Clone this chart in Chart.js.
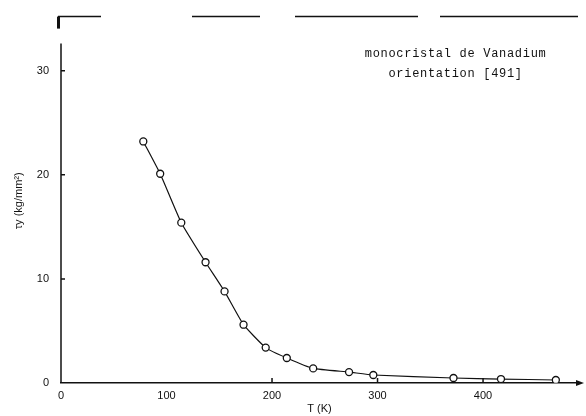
<!DOCTYPE html>
<html>
<head>
<meta charset="utf-8">
<script src="https://cdn.jsdelivr.net/npm/chart.js@4"></script>
<style>
  html, body { margin: 0; padding: 0; background: #fff; }
  #wrap { width: 586px; height: 416px; }
</style>
</head>
<body>
<div id="wrap"><canvas id="stressChart" width="586" height="416"></canvas></div>
<script>
// values
const temperatures = [78, 94, 114, 137, 155, 173, 194, 214, 239, 273, 296, 372, 417, 469];
const stress = [23.2, 20.1, 15.4, 11.6, 8.8, 5.6, 3.4, 2.4, 1.4, 1.05, 0.77, 0.48, 0.38, 0.29];
const xTicks = [0, 100, 200, 300, 400];
const yTicks = [0, 10, 20, 30];
const noteLines = ["monocristal de Vanadium", "orientation [491]"];

const INK = "#111";
const tickFont = { family: "Liberation Sans", size: 11 };

// y axis line, inward tick marks, top frame line, arrow head and the note
const decorations = {
  id: "decorations",
  afterDraw(chart) {
    const { ctx, chartArea, scales } = chart;
    const x = scales.x, y = scales.y;
    ctx.save();
    ctx.strokeStyle = INK;
    ctx.fillStyle = INK;
    ctx.lineWidth = 1.5;

    // the vertical axis stops short of the top frame
    ctx.beginPath();
    ctx.moveTo(chartArea.left, y.getPixelForValue(32.6));
    ctx.lineTo(chartArea.left, chartArea.bottom);
    ctx.stroke();

    ctx.beginPath();
    yTicks.slice(1).forEach((v) => {
      const py = y.getPixelForValue(v);
      ctx.moveTo(chartArea.left, py);
      ctx.lineTo(chartArea.left + 4, py);
    });
    xTicks.slice(2).forEach((v) => {
      const px = x.getPixelForValue(v);
      ctx.moveTo(px, chartArea.bottom);
      ctx.lineTo(px, chartArea.bottom - 5);
    });
    ctx.stroke();

    // broken frame line on top
    ctx.beginPath();
    ctx.moveTo(chartArea.left - 3, chartArea.top - 2);
    ctx.lineTo(chartArea.left + 40, chartArea.top - 2);
    ctx.moveTo(192, chartArea.top - 2);
    ctx.lineTo(260, chartArea.top - 2);
    ctx.moveTo(295, chartArea.top - 2);
    ctx.lineTo(418, chartArea.top - 2);
    ctx.moveTo(440, chartArea.top - 2);
    ctx.lineTo(chartArea.right, chartArea.top - 2);
    ctx.stroke();
    ctx.fillRect(chartArea.left - 4, chartArea.top - 2, 3, 12);

    // arrow head at the end of the T axis
    ctx.beginPath();
    ctx.moveTo(chartArea.right + 6, chartArea.bottom);
    ctx.lineTo(chartArea.right - 2, chartArea.bottom - 3);
    ctx.lineTo(chartArea.right - 2, chartArea.bottom + 3);
    ctx.closePath();
    ctx.fill();

    ctx.font = "12px 'Liberation Mono'";
    if ("letterSpacing" in ctx) ctx.letterSpacing = "0.7px";
    ctx.textAlign = "center";
    ctx.textBaseline = "middle";
    const cx = x.getPixelForValue(374);
    ctx.fillText(noteLines[0], cx, y.getPixelForValue(31.6));
    ctx.fillText(noteLines[1], cx, y.getPixelForValue(29.7));
    ctx.restore();
  },
};

new Chart(document.getElementById("stressChart"), {
  type: "line",
  data: {
    datasets: [
      {
        data: temperatures.map((t, i) => ({ x: t, y: stress[i] })),
        borderColor: INK,
        borderWidth: 1.2,
        pointRadius: 3.5,
        pointBorderWidth: 1.3,
        pointBackgroundColor: "#fff",
        pointBorderColor: INK,
        tension: 0.15,
      },
    ],
  },
  options: {
    responsive: false,
    animation: false,
    layout: { padding: { top: 17, right: 8, left: 0, bottom: 0 } },
    plugins: { legend: { display: false }, tooltip: { enabled: false } },
    scales: {
      x: {
        type: "linear",
        min: 0,
        max: 490,
        afterBuildTicks: (s) => { s.ticks = xTicks.map((v) => ({ value: v })); },
        afterFit: (s) => { s.height = 33; },
        ticks: { color: INK, font: tickFont, padding: 6, maxRotation: 0 },
        grid: { drawOnChartArea: false, drawTicks: false },
        border: { display: true, color: INK, width: 1.5 },
        title: { display: true, text: "T (K)", color: INK, font: tickFont, padding: { top: 0, bottom: 0 } },
      },
      y: {
        min: 0,
        max: 35,
        afterBuildTicks: (s) => { s.ticks = yTicks.map((v) => ({ value: v })); },
        afterFit: (s) => { s.width = 61; },
        ticks: { color: INK, font: tickFont, padding: 12 },
        grid: { drawOnChartArea: false, drawTicks: false },
        border: { display: false },
        title: { display: true, text: "τy (kg/mm²)", color: INK, font: tickFont, padding: { top: 12, bottom: 0 } },
      },
    },
  },
  plugins: [decorations],
});
</script>
</body>
</html>
